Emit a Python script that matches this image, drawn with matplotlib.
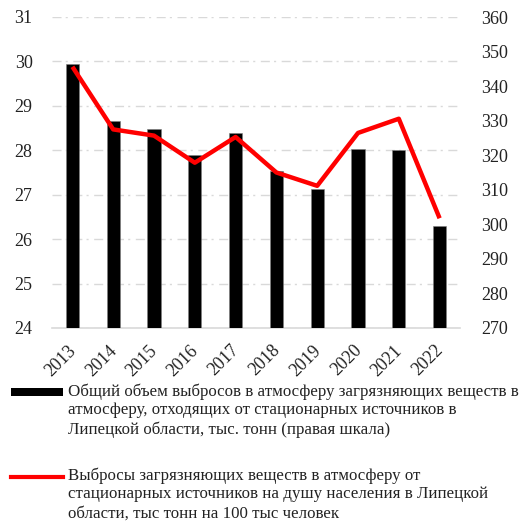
import matplotlib.pyplot as plt
import matplotlib.patches as mpatches
import matplotlib.transforms as mtransforms
from matplotlib.lines import Line2D

plt.rcParams['font.family'] = ['Liberation Serif', 'DejaVu Serif']

# Data
years = ['2013', '2014', '2015', '2016', '2017', '2018', '2019', '2020', '2021', '2022']
total_emissions = [346.5, 329.9, 327.6, 320.1, 326.4, 315.3, 310.2, 321.7, 321.5, 299.6]  # bars, right scale
per_capita = [29.88, 28.47, 28.33, 27.72, 28.30, 27.50, 27.20, 28.39, 28.71, 26.47]        # line, left scale

label_bars = ("Общий объем выбросов в атмосферу загрязняющих веществ в\n"
              "атмосферу, отходящих от стационарных источников в\n"
              "Липецкой области, тыс. тонн (правая шкала)")
label_line = ("Выбросы загрязняющих веществ в атмосферу от\n"
              "стационарных источников на душу населения в Липецкой\n"
              "области, тыс тонн на 100 тыс человек")

fig = plt.figure(figsize=(5.24, 5.23), dpi=100)
W, H = 524, 523
# plot area in pixels: x 52..460, y 17..328 (from top)
ax = fig.add_axes([52 / W, 1 - 328 / H, 408 / W, 311 / H])
ax2 = ax.twinx()

x = list(range(len(years)))

# bars on the right scale
ax2.bar(x, total_emissions, width=0.32, color='black', edgecolor='#7f7f7f', linewidth=0.4, zorder=2)
ax2.set_ylim(270, 360)
ax2.set_yticks(range(270, 361, 10))

# line on the left scale
ax.set_ylim(24, 31)
ax.set_yticks(range(24, 32))
ax.set_xlim(-0.5, len(years) - 0.5)
ax.yaxis.grid(True, color='#d9d9d9', linewidth=1.0, dashes=(6.5, 3, 1.5, 4))
ax.set_axisbelow(True)

# separate axes on top so the line is drawn over the bars
ln_ax = ax2.twinx()
ln_ax.set_ylim(24, 31)
ln_ax.plot(x, per_capita, color='#ff0000', linewidth=3.2, solid_capstyle='butt', zorder=3)
ln_ax.axis('off')
ax2.yaxis.tick_right()

for a in (ax, ax2):
    for s in a.spines.values():
        s.set_visible(False)
ax.spines['bottom'].set_visible(True)
ax.spines['bottom'].set_color('#d9d9d9')
ax.spines['bottom'].set_linewidth(1.2)

ax.tick_params(axis='y', length=0, pad=14, labelsize=13, colors='#222222')
ax2.tick_params(axis='y', length=0, pad=15, labelsize=13, colors='#222222')
ax.set_xticks(x)
ax.set_xticklabels(years, rotation=45, ha='right', rotation_mode='anchor', fontsize=13, color='#222222')
ax.tick_params(axis='x', length=0, pad=10)
shift = mtransforms.ScaledTranslation(-5 / 100, 0, fig.dpi_scale_trans)
for lbl in ax.get_xticklabels():
    lbl.set_transform(lbl.get_transform() + shift)

# legend drawn manually
fig.add_artist(mpatches.Rectangle((11 / W, 1 - 396 / H), 52 / W, 8 / H, transform=fig.transFigure,
                                  facecolor='black', edgecolor='none'))
fig.text(68 / W, 1 - 383 / H, label_bars, fontsize=12.2, va='top', ha='left', linespacing=1.25, color='#222222')
fig.add_artist(Line2D([11 / W, 63 / W], [1 - 477 / H, 1 - 477 / H], transform=fig.transFigure,
                      color='#ff0000', linewidth=3))
fig.text(68 / W, 1 - 467 / H, label_line, fontsize=12.2, va='top', ha='left', linespacing=1.25, color='#222222')

fig.savefig('out.png', dpi=100)
